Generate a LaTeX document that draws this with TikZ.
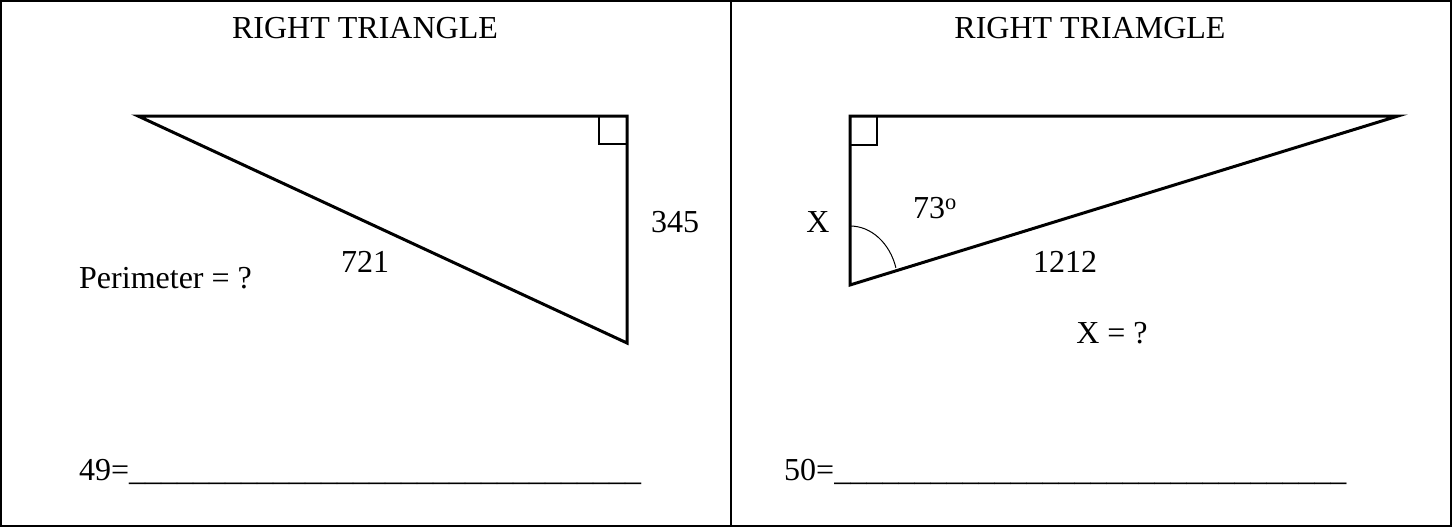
\documentclass[tikz,border=0pt]{standalone}
\usepackage{fontspec}
\setmainfont{Liberation Serif}
\begin{document}
\begin{tikzpicture}[x=1pt,y=-1pt,
  lbl/.style={font=\fontsize{32}{38}\selectfont, inner sep=0pt},
  tri/.style={line width=3pt, line join=miter},
  frame/.style={line width=1.5pt}]
\useasboundingbox (0,0) rectangle (1452,527);
\fill[white] (0,0) rectangle (1452,527);
% frame
\draw[frame] (1,1) rectangle (1451,526);
\coordinate (dt) at (731,0);
\coordinate (db) at (731,527);
\draw[frame] (dt) -- (db);
% left panel
\node[lbl] (t1) at (365,28) {RIGHT TRIANGLE};
\coordinate (A) at (138,116);
\coordinate (B) at (627,116);
\coordinate (C) at (627,343);
\draw[tri] (A) -- (B) -- (C) -- cycle;
\draw[line width=2.5pt] (599,116) |- (627,144);
\node[lbl] (s345) at (675,222) {345};
\node[lbl] (s721) at (365,262) {721};
\node[lbl, anchor=west] (per) at (79,278) {Perimeter = ?};
\node[lbl, anchor=base west] (a49) at (79,480) {49=\_\_\_\_\_\_\_\_\_\_\_\_\_\_\_\_\_\_\_\_\_\_\_\_\_\_\_\_\_\_\_\_};
% right panel
\node[lbl] (t2) at (1090,28) {RIGHT TRIAMGLE};
\coordinate (D) at (850,116);
\coordinate (E) at (1398,116);
\coordinate (F) at (850,285);
\draw[tri] (D) -- (E) -- (F) -- cycle;
\draw[line width=2.5pt] (877,116) |- (850,145);
\draw[line width=1pt] (850,226) arc[start angle=-90, end angle=-17, x radius=48, y radius=59];
\node[lbl] (xl) at (818,222) {X};
\node[lbl] (ang) at (935,208) {73\textsuperscript{o}};
\node[lbl] (s1212) at (1065,262) {1212};
\node[lbl] (xq) at (1112,333) {X = ?};
\node[lbl, anchor=base west] (a50) at (784,480) {50=\_\_\_\_\_\_\_\_\_\_\_\_\_\_\_\_\_\_\_\_\_\_\_\_\_\_\_\_\_\_\_\_};
\end{tikzpicture}
\end{document}
